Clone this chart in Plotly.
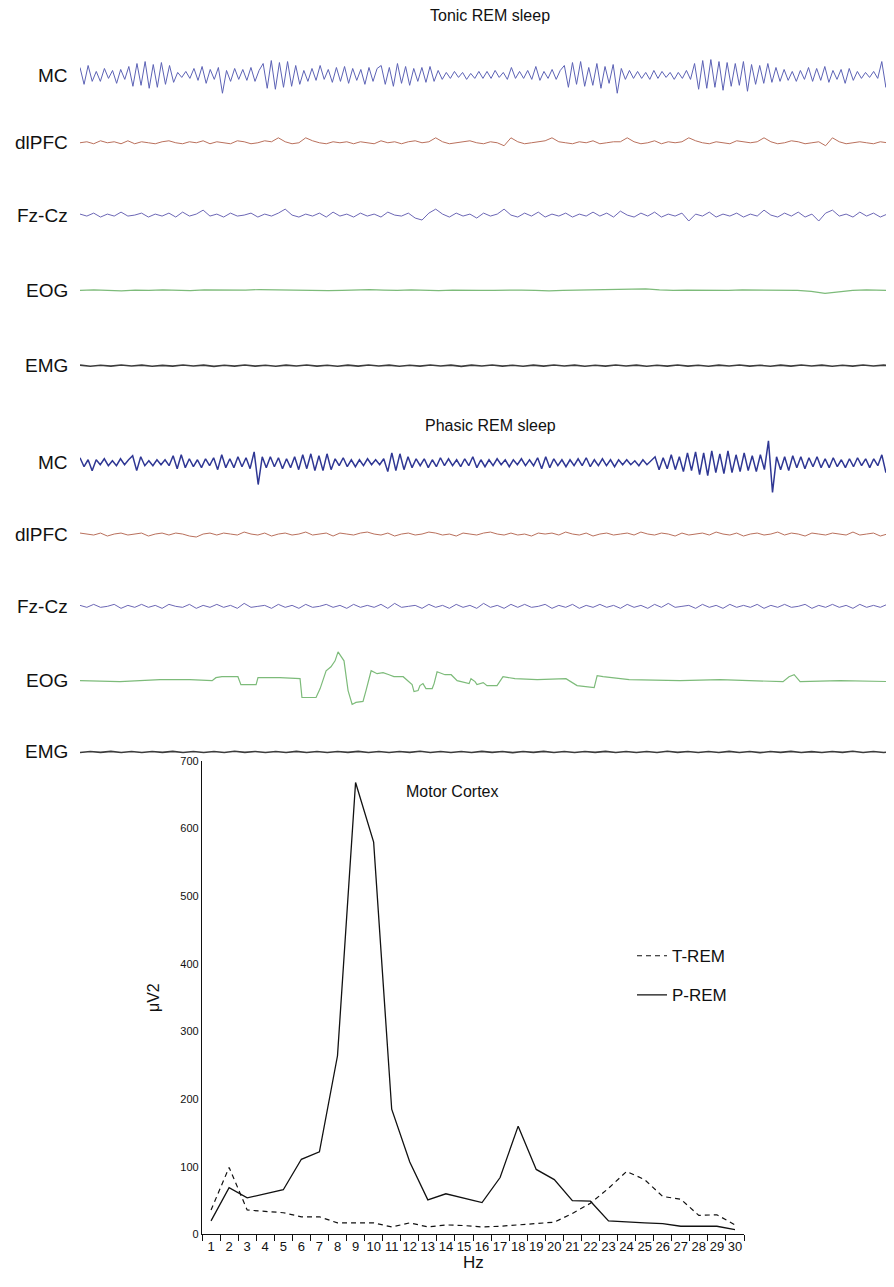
import numpy as np
import plotly.graph_objects as go

# ---------------------------------------------------------------- EEG epochs
# deflections (arbitrary units, + = up), equally spaced over a 30 s epoch
mc_tonic = [8, -9, 10, -6, 4, -6, 7, -3, 5, -8, 6, -4, 9, -11, 12, -10, 14, -13, 11, -12, 13, -9, 10, -7,
            3, -2, 4, -3, 7, -5, 9, -8, 6, -4, 8, -18, 5, -6, 7, -4, 6, -5, 8, -6, 5,
            12, -13, 15, -14, 13, -12, 14, -11, 10, -9, 5, -6, 7, -5, 10, -4, 6,
            -7, 8, -6, 9, -8, 7, -5, 6, -9, 8, -6, 7, 10, -9, 8, -11, 12, -8, 9, -10, 7, -6,
            8, -7, 9, -6, 5, -4, 3, -3, 4, -2, 3, -4, 2, -3, 4, -3,
            4, -3, 5, -2, 3, -4, 8, -3, 4, -3, 5, -4, 9, -5, 4, -3, 6, -4, 5,
            10, -12, 13, -9, 14, -11, 8, -10, 12, -13, 9, -8, 11, -18, 7,
            -4, 5, -3, 4, -3, 3, -4, 5, -3, 4, -2, 3, -4, 3, -3, 5, -4,
            12, -14, 15, -13, 16, -12, 14, -15, 13, -11, 12, -10, 14, -16, 11, -9, 10, -8, 12, -7, 8, -6,
            6, -5, 4, -6, 5, -4, 8, -6, 7, -5, 9, -7, 5, -4, 6, -8, 7, -5, 4, -3,
            3, -2, 4, -3, 14, -12, 15, -10]
dlpfc_tonic = [0, 1, -1, 2, 0, 1, -1, 2, -1, 1, 0, -1, 1, 2, 0, -1, 1, 0, 2, -1,
               1, 0, -1, 2, 1, -1, 0, 2, 1, 5, 1, -1, 0, 5, 2, 0, -1, 1, 0, 1,
               -1, 1, 0, -1, 2, 0, 1, -1, 1, 2, 0, 1, 5, 1, -1, 0, 1, 2, 0, -1,
               1, 0, -3, 5, 1, -1, 0, 1, 2, 5, 1, 0, -1, 1, 0, 2, -1, 0, 1, 1,
               5, 1, -1, 0, 2, -1, 1, 0, 1, 5, 2, 0, -1, 1, 0, -1, 2, 1, 0, 1,
               5, 1, -1, 0, 2, 1, -1, 0, 1, -3, 5, 1, -1, 0, 1, 0, -1, 1, 0, 1]
fzcz_tonic = [1, -1, 2, -2, 1, -1, 3, -1, 0, 2, -2, 1, -1, 2, -2, 3, -1, 1, 5, -1,
              1, -2, 2, -1, 0, 2, -2, 1, -1, 2, 6, 0, -2, 1, -1, 2, -2, 3, -1, 1,
              -2, 2, -1, 1, -2, 3, 0, -1, 2, -3, -5, 2, 6, 1, -2, 2, -1, 1, -3, 2,
              -1, 1, 6, 0, -2, 2, -1, 3, -2, 1, -1, 2, -2, 1, -1, 3, -1, 2, -2, 4,
              0, -2, 2, -1, 3, -2, 1, -1, 2, -6, 1, -1, 3, -2, 1, -1, 2, -2, 1, -1,
              5, 0, -2, 2, -1, 3, -2, 1, -6, 2, 5, -1, 1, -2, 3, -1, 2, -2, 1, -4]
eog_tonic = [0, 0.5, 0, -0.5, 0.3, 0, 0.5, 0, -0.3, 0.5, 0.5, 0, 0.3, 0.8, 0.5, 0, 0.3, 0, -0.3, 0,
             0.5, 0.8, 0.3, 0, 0.5, 0, -0.3, 0.3, 0.5, 0, 0, 0.5, 0.3, 0, -0.5, 0, 0.3, 0.5, 0.8, 0.5,
             1, 1.5, 0.5, 0, 0.3, 0, -0.3, 0, 0.5, 0.3, 0, 0.3, 0, -1, -3, -1.5, 0, 0.5, 0, -0.3]
emg_tonic = [0.5, -0.6, 0.4, -0.5, 0.7, -0.4, 0.5, -0.6, 0.3, -0.5, 0.6, -0.4, 0.5, -0.7, 0.4, -0.5,
             0.6, -0.5, 0.4, -0.6, 0.5, -0.4, 0.7, -0.5, 0.4, -0.6, 0.5, -0.5, 0.6, -0.4, 0.5, -0.6,
             0.4, -0.5, 0.6, -0.4, 0.5, -0.7, 0.5, -0.4, 0.6, -0.5, 0.4, -0.6, 0.5, -0.5, 0.7, -0.4,
             0.5, -0.6, 0.4, -0.5, 0.6, -0.4, 0.5, -0.6, 0.4, -0.5, 0.6, -0.5, 0.4, -0.6, 0.5, -0.4,
             0.7, -0.5, 0.4, -0.6, 0.5, -0.5, 0.6, -0.4, 0.5, -0.6, 0.4, -0.5, 0.6, -0.4, 0.5, -0.6]

mc_phasic = [5, -4, 3, -8, 3, -2, 4, -3, 2, -3, 4, -2, 3, 7, -8, 6, -3, 2, -3, 3, -2, 3, -3,
             7, -6, 8, -5, 4, -4, 3, -5, 4, -3, 5, -7, 8, -5, 4, -5, 6, -4, 5, -6, 11, -22, 6,
             -5, 6, -4, 5, -6, 4, -5, 6, -7, 8, -6, 9, -8, 7, -8, 9, -7,
             4, -3, 5, -4, 3, -4, 3, -3, 4, -2, 3, -2, 4, -9, 10, -8, 9, -7, 6, -5,
             4, -3, 4, -5, 3, -4, 5, -3, 4, -3, 3, -4, 4, -3, 6, -5,
             3, -4, 3, -3, 4, -2, 3, -4, 3, -2, 4, -3, 3, -3, 5, -6, 6, -5, 4, -3,
             3, -4, 3, -3, 4, -3, 5, -4, 3, -3, 4, -3, 3, -4, 3, -2, 3, -2, 2, -3, 3, -2, 2,
             6, -7, 5, -6, 8, -7, 6, -9, 10, -8,
             11, -12, 10, -13, 12, -10, 9, -11, 12, -10, 8, -9, 10, -8, 7, -9, 8, -7,
             22, -30, 6, -7, 6, -8, 7, -5, 6, -6,
             5, -4, 6, -5, 4, -5, 5, -4, 3, -5, 4, -4, 5, -3, 4, -5, 4, -3, 8, -10, 7, -6]
dlpfc_phasic = [1, 0, -1, 1, -2, 0, 1, -1, 0, 1, -2, 0, 1, -1, 1, 0, -2, -3, 0, 1,
                -1, 1, 0, -1, 2, 0, -1, 1, -2, 0, 1, -1, 0, 2, -1, 0, 1, -2, 1, 0,
                -1, 1, 2, 0, -1, 1, -2, 0, 1, -1, 0, 2, 1, -1, 0, -2, 1, 0, -1, 1,
                2, 0, -1, 1, -1, 0, -2, 1, 0, 1, -1, 2, 0, -1, 1, -2, 0, 1, -1, 0,
                1, -1, 2, 0, -1, 1, 0, -2, 1, -1, 0, 1, -1, 2, 0, -1, 1, -2, 0, 1,
                -1, 0, 2, -1, 1, 0, -2, 1, 0, -1, 1, 0, -1, 2, -1, 0, 1, -2, 0, 1]
fzcz_phasic = [1, -1, 2, -1, 0, 2, -2, 1, -1, 2, -1, 1, -2, 2, 0, -1, 2, -2, 1, -1,
               2, -1, 1, -2, 3, -1, 0, 1, -2, 2, -1, 1, -2, 2, -1, 0, 2, -1, 1, -2,
               2, -1, 1, -1, 2, -2, 3, -1, 0, 1, -2, 2, -1, 1, -2, 2, -1, 1, -2, 3,
               -1, 1, -2, 2, -1, 2, -1, 0, 2, -2, 1, -1, 2, -2, 1, -1, 2, -1, 1, -2,
               2, -1, 1, -2, 2, -1, 3, -1, 0, 1, -2, 2, -1, 1, -2, 2, -1, 1, -1, 2,
               -2, 1, -1, 2, -1, 0, 2, -2, 1, -1, 2, -1, 1, -2, 2, -1, 1, -1, 2, -1]
# eye movements: (time s, deflection) breakpoints
eog_phasic_t = [0.0, 0.74, 1.47, 2.21, 2.95, 4.05, 4.61, 4.87, 5.01, 5.23, 5.82, 5.93, 6.49, 6.56,
                7.37, 8.11, 8.18, 8.70, 8.85, 9.07, 9.25, 9.40, 9.51, 9.62, 9.73, 9.88, 10.03, 10.17,
                10.43, 10.54, 10.73, 10.95, 11.17, 11.39, 11.57, 11.91, 12.09, 12.24, 12.31, 12.46,
                12.53, 12.64, 12.75, 12.98, 13.05, 13.16, 13.45, 13.68, 13.90, 14.19, 14.34, 14.41,
                14.56, 14.63, 14.86, 15.00, 15.37, 15.59, 16.03, 16.85, 17.51, 17.91, 18.32, 18.80,
                18.95, 19.06, 19.28, 20.24, 22.11, 23.59, 25.06, 25.91, 26.13, 26.32, 26.54, 28.01, 30.0]
eog_phasic = [0, -0.5, -1, 0, 1, 1, 0.5, 0, 3, 4, 4, -4, -4, 3,
              3, 2, -17, -17, -8, 10, 14, 20, 29, 25, 20, -10, -24, -22,
              -21, -10, 10, 7, 8, 6, 4, 4, 0, -4, -11, -10,
              -5, -3, -8, -8, -3, 9, 6, 6, 0, -2, -3, 2,
              -1, -4, -2, -5, -5, 4, 2, 1, 2, 2, -5, -6,
              -7, 5, 4, 1, 0, 1, 0, -1, 4, 6, -1, 0, -1]
emg_phasic = emg_tonic[::-1]

channels = ["MC", "dlPFC", "Fz-Cz", "EOG", "EMG"]

# ---------------------------------------------------------------- spectrum
hz = [str(h) for h in range(1, 31)]
t_rem = [36, 99, 36, 34, 32, 26, 26, 17, 17, 17, 11, 17, 11, 14, 13,
         11, 12, 14, 16, 18, 31, 46, 68, 93, 81, 56, 52, 28, 29, 14]
p_rem = [20, 69, 54, 60, 66, 111, 122, 264, 668, 580, 185, 107, 51, 60, 53,
         47, 84, 160, 96, 81, 50, 49, 20, 18, 17, 16, 12, 12, 12, 7]

# page is 894x1287, the html body adds an 8px margin round the figure
PAGE_W, PAGE_H, PAD = 894, 1287, 8
W, H = PAGE_W - 2 * PAD, PAGE_H - 2 * PAD
FONT = "Arial, Liberation Sans, sans-serif"


def px(x):
    return (x - PAD) / W


def py(y):
    return 1 - (y - PAD) / H


fig = go.Figure()

rows = [
    dict(title="Tonic REM sleep", title_y=10, base=[70, 138, 211, 287, 363],
         data=[mc_tonic, dlpfc_tonic, fzcz_tonic, eog_tonic, emg_tonic],
         colors=["#5c62b5", "#b9705c", "#6c67b5", "#7dbb7a", "#3c3c3c"],
         widths=[1.0, 1.0, 1.0, 1.2, 1.6]),
    dict(title="Phasic REM sleep", title_y=423, base=[461, 533, 606, 681, 753],
         data=[mc_phasic, dlpfc_phasic, fzcz_phasic, None, emg_phasic],
         colors=["#2f3794", "#b9705c", "#6c67b5", "#7dbb7a", "#3c3c3c"],
         widths=[1.5, 1.0, 1.0, 1.2, 1.6]),
]

for r in rows:
    for name, base, vals, col, lw in zip(channels, r["base"], r["data"], r["colors"], r["widths"]):
        if vals is None:
            t = np.array(eog_phasic_t)
            v = np.array(eog_phasic, dtype=float)
        else:
            v = np.array(vals, dtype=float)
            t = np.linspace(0, 30, len(v))
        fig.add_trace(go.Scatter(x=t, y=base - v, mode="lines", line=dict(color=col, width=lw),
                                 showlegend=False, hoverinfo="skip", xaxis="x", yaxis="y"))
        fig.add_annotation(x=px(70), y=py(base), xref="paper", yref="paper",
                           text=name, showarrow=False, xanchor="right", yanchor="middle",
                           font=dict(size=19, color="#111", family=FONT))
    fig.add_annotation(x=px(490), y=py(r["title_y"]), xref="paper", yref="paper", text=r["title"],
                       showarrow=False, xanchor="center", yanchor="middle",
                       font=dict(size=16, color="#111", family=FONT))

fig.add_trace(go.Scatter(x=hz, y=t_rem, mode="lines", name="T-REM", legendgroup="t",
                         line=dict(color="#111", width=1.2, dash="5px,4px"),
                         xaxis="x2", yaxis="y2"))
fig.add_trace(go.Scatter(x=hz, y=p_rem, mode="lines", name="P-REM", legendgroup="p",
                         line=dict(color="#111", width=1.3),
                         xaxis="x2", yaxis="y2"))

fig.add_annotation(x=px(452), y=py(793), xref="paper", yref="paper", text="Motor Cortex",
                   showarrow=False, font=dict(size=16, color="#111", family=FONT))
fig.add_annotation(x=px(473), y=0, xref="paper", yref="paper", text="Hz", borderpad=0,
                   showarrow=False, yanchor="bottom", font=dict(size=17, color="#111", family=FONT))

# traces: one unit = one page pixel vertically; 30 s spans page x 80..894
t_end = 30 * (PAGE_W - PAD - 80) / (PAGE_W - 80)

fig.update_layout(
    width=W, height=H, margin=dict(l=0, r=0, t=0, b=0),
    paper_bgcolor="white", plot_bgcolor="white",
    font=dict(family=FONT, color="#111"),
    xaxis=dict(domain=[px(80), 1], range=[0, t_end], visible=False),
    yaxis=dict(domain=[py(780), 1], range=[780, PAD], visible=False),
    xaxis2=dict(domain=[px(202), px(744)], anchor="y2", type="category",
                tickson="boundaries", ticks="outside", ticklen=6, tickcolor="#111",
                showline=True, linecolor="#111", linewidth=1.2, showgrid=False,
                tickfont=dict(size=13), tickangle=0, range=[-0.5, 29.5]),
    yaxis2=dict(domain=[py(1240), py(762)], anchor="x2", range=[0, 700],
                tickvals=list(range(0, 701, 100)), ticks="", showline=True, linecolor="#111",
                linewidth=1.2, showgrid=False, zeroline=False, tickfont=dict(size=11),
                title=dict(text="μV2", font=dict(size=16), standoff=16)),
    legend=dict(x=px(632), y=py(941), xanchor="left", yanchor="top",
                font=dict(size=17), itemwidth=30, tracegroupgap=14, bgcolor="rgba(0,0,0,0)"),
)

fig.write_html("out.html")
